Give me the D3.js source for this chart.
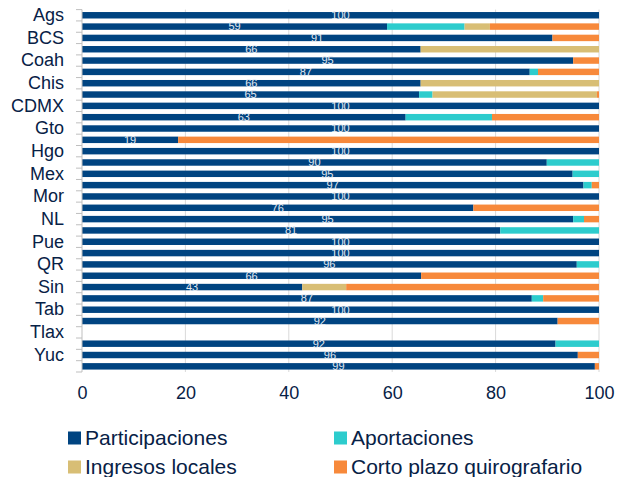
<!DOCTYPE html>
<html>
<head>
<meta charset="utf-8">
<script src="https://cdn.jsdelivr.net/npm/d3@7"></script>
<style>
  body { margin: 0; background: #fff; }
  svg { font-family: "Liberation Sans", Arial, sans-serif; }
</style>
</head>
<body>
<div id="chart"></div>
<script>
// estados, en orden
const states = ["Ags","BC","BCS","Camp","Coah","Col","Chis","Chih","CDMX","Dgo","Gto","Gro","Hgo","Jal","Mex","Mich",
  "Mor","Nay","NL","Oax","Pue","Qro","QR","SLP","Sin","Son","Tab","Tamps","Tlax","Ver","Yuc","Zac"];

// % por fuente de pago
const participaciones = [100,59,91,65.5,95,86.6,65.5,65.2,100,62.6,100,18.6,100,89.9,94.9,97,
  100,75.7,95,80.9,100,100,95.7,65.6,42.6,87,100,92,0,91.6,95.9,99.2];
const aportaciones = [0,15,0,0,0,1.6,0,2.6,0,16.7,0,0,0,10.1,5.1,1.6,
  0,0,2.1,19.1,0,0,4.3,0,0,2.2,0,0,0,8.4,0,0];
const ingresosLocales = [0,4.9,0,34.5,0,0,34.5,31.8,0,0,0,0,0,0,0,0,
  0,0,0,0,0,0,0,0,8.5,0,0,0,0,0,0,0];
const cortoPlazo = [0,21.1,9,0,5,11.8,0,0.4,0,20.7,0,81.4,0,0,0,1.4,
  0,24.3,2.9,0,0,0,0,34.4,48.9,10.8,0,8,0,0,4.1,0.8];

const seriesNames = ["Participaciones","Aportaciones","Ingresos locales","Corto plazo quirografario"];
const colors = ["#004481","#2dcccd","#d8be75","#f7893b"];
const xTicks = [0,20,40,60,80,100];

const width = 625, height = 477;
const textColor = "#072146";

const svg = d3.select("#chart").append("svg").attr("width", width).attr("height", height);

const x = d3.scaleLinear().domain([0,100]).range([82, 599]);
const y = d3.scaleBand().domain(states).range([9.6, 372]).paddingInner(0.43).paddingOuter(0.215);

// gridlines
svg.append("g").selectAll("line")
  .data(xTicks.slice(1))
  .enter().append("line")
  .attr("x1", d => x(d)).attr("x2", d => x(d))
  .attr("y1", y.range()[0]).attr("y2", y.range()[1])
  .attr("stroke", "#d9d9d9").attr("stroke-width", 1);

// stacked bars
const table = states.map((s, i) => ({
  state: s,
  "Participaciones": participaciones[i],
  "Aportaciones": aportaciones[i],
  "Ingresos locales": ingresosLocales[i],
  "Corto plazo quirografario": cortoPlazo[i]
}));
const stacked = d3.stack().keys(seriesNames)(table);

svg.append("g").selectAll("g")
  .data(stacked)
  .enter().append("g")
  .attr("fill", (d, i) => colors[i])
  .selectAll("rect")
  .data(d => d.filter(v => v[1] - v[0] > 0))
  .enter().append("rect")
  .attr("x", d => x(d[0]))
  .attr("y", d => y(d.data.state))
  .attr("width", d => x(d[1]) - x(d[0]))
  .attr("height", y.bandwidth());

// value labels (participaciones)
svg.append("g").selectAll("text")
  .data(table.filter(d => d["Participaciones"] > 0))
  .enter().append("text")
  .attr("x", d => (x(0) + x(d["Participaciones"])) / 2)
  .attr("y", d => y(d.state) + y.bandwidth() / 2)
  .attr("dy", "0.35em")
  .attr("text-anchor", "middle")
  .attr("font-size", "11px")
  .attr("fill", "#e4eaf1")
  .text(d => Math.round(d["Participaciones"]));

// y axis line + boundary ticks
const step = y.step();
const yAxis = svg.append("g").attr("stroke", "#bfbfbf");
yAxis.append("line")
  .attr("x1", x(0)).attr("x2", x(0))
  .attr("y1", y.range()[0]).attr("y2", y.range()[1]);
yAxis.selectAll("line.tk")
  .data(d3.range(states.length + 1))
  .enter().append("line").attr("class", "tk")
  .attr("x1", x(0) - 6).attr("x2", x(0))
  .attr("y1", i => y.range()[0] + i * step)
  .attr("y2", i => y.range()[0] + i * step);

// y labels (every other state)
svg.append("g")
  .attr("transform", `translate(${x(0)},0)`)
  .call(d3.axisLeft(y).tickValues(states.filter((d, i) => i % 2 === 0)).tickSize(0).tickPadding(18))
  .attr("font-family", null)
  .call(g => g.select(".domain").remove())
  .call(g => g.selectAll("text").attr("font-size", "18px").attr("fill", textColor));

// x axis
svg.append("g")
  .attr("transform", `translate(0,${y.range()[1]})`)
  .call(d3.axisBottom(x).tickValues(xTicks).tickSize(0).tickPadding(14))
  .attr("font-family", null)
  .call(g => g.select(".domain").remove())
  .call(g => g.selectAll("text").attr("font-size", "18px").attr("fill", textColor));

// legend
const legendPos = [[68, 438], [334, 438], [68, 467], [334, 467]];
const legend = svg.append("g").selectAll("g")
  .data(seriesNames)
  .enter().append("g")
  .attr("transform", (d, i) => `translate(${legendPos[i][0]},${legendPos[i][1]})`);
legend.append("rect")
  .attr("x", 0).attr("y", -6.5)
  .attr("width", 13).attr("height", 13)
  .attr("fill", (d, i) => colors[i]);
legend.append("text")
  .attr("x", 17).attr("y", 0).attr("dy", "0.35em")
  .attr("font-size", "21px")
  .attr("fill", textColor)
  .text(d => d);
</script>
</body>
</html>
